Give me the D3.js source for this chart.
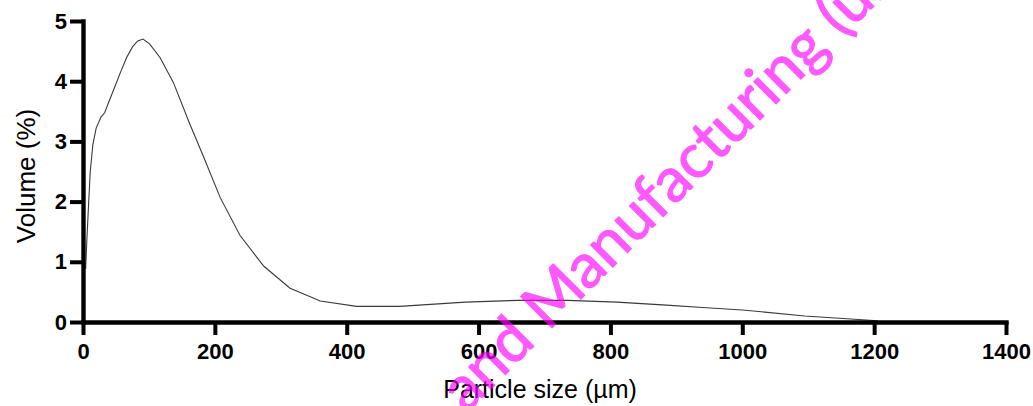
<!DOCTYPE html>
<html>
<head>
<meta charset="utf-8">
<script src="https://cdn.jsdelivr.net/npm/d3@7"></script>
<style>
    body { margin: 0; background: #fff; }
    .axis text { font-family: "Liberation Sans", Arial, sans-serif; font-weight: bold; font-size: 22px; fill: #000; }
</style>
</head>
<body>
<div id="chart-area"></div>
<script>
// particle size distribution (um vs volume %)
var particleSize = [4, 6, 8, 11, 15, 20, 27, 33, 40, 48, 57, 66, 75, 83, 91, 101, 117, 137, 162, 183,
    208, 238, 274, 314, 360, 415, 480, 580, 660, 735, 810, 885, 940, 1000, 1095, 1205];
var volume = [0.88, 1.4, 1.85, 2.5, 2.95, 3.22, 3.4, 3.48, 3.68, 3.9, 4.15, 4.39, 4.57, 4.67, 4.70, 4.62, 4.39, 3.98, 3.29, 2.74,
    2.07, 1.44, 0.93, 0.56, 0.35, 0.26, 0.26, 0.33, 0.36, 0.36, 0.33, 0.28, 0.24, 0.20, 0.10, 0.02];
var xTicks = [0, 200, 400, 600, 800, 1000, 1200, 1400];
var yTicks = [0, 1, 2, 3, 4, 5];
var watermark = "and Manufacturing (un";

SizeChart = function(_parentElement) {
    this.parentElement = _parentElement;
    this.data = particleSize.map(function(d, i) { return { size: d, vol: volume[i] }; });
    this.initVis();
}

SizeChart.prototype.initVis = function() {
    var vis = this;

    vis.margin = { top: 21, right: 27, bottom: 84, left: 83 };
    vis.width = 1033 - vis.margin.left - vis.margin.right;
    vis.height = 406 - vis.margin.top - vis.margin.bottom;

    vis.root = d3.select("#" + vis.parentElement).append("svg")
        .attr("width", 1033)
        .attr("height", 406);
    vis.svg = vis.root.append("g")
        .attr("transform", "translate(" + vis.margin.left + "," + vis.margin.top + ")");

    vis.x = d3.scaleLinear().domain([0, 1400]).range([0, vis.width]);
    vis.y = d3.scaleLinear().domain([0, 5]).range([vis.height, 0]);

    vis.xAxis = d3.axisBottom(vis.x).tickValues(xTicks).tickFormat(d3.format("d"))
        .tickSize(13).tickSizeOuter(0).tickPadding(8);
    vis.yAxis = d3.axisLeft(vis.y).tickValues(yTicks).tickFormat(d3.format("d"))
        .tickSize(13).tickSizeOuter(0).tickPadding(3);

    vis.updateVis();
}

SizeChart.prototype.updateVis = function() {
    var vis = this;

    var line = d3.line()
        .x(function(d) { return vis.x(d.size); })
        .y(function(d) { return vis.y(d.vol); });

    vis.svg.append("path")
        .datum(vis.data)
        .attr("fill", "none")
        .attr("stroke", "#3a3a3a")
        .attr("stroke-width", 1.1)
        .attr("d", line);

    var gx = vis.svg.append("g")
        .attr("class", "x-axis axis")
        .attr("transform", "translate(0," + vis.height + ")")
        .call(vis.xAxis);
    var gy = vis.svg.append("g")
        .attr("class", "y-axis axis")
        .call(vis.yAxis);

    [gx, gy].forEach(function(g) {
        g.select(".domain")
            .style("stroke", "#000")
            .style("stroke-width", "4.4px")
            .style("stroke-linecap", "square");
        g.selectAll(".tick line")
            .style("stroke", "#000")
            .style("stroke-width", "4px");
    });

    // axis titles
    vis.root.append("text")
        .attr("x", 540)
        .attr("y", 398)
        .attr("text-anchor", "middle")
        .style("font-family", "Liberation Sans, Arial, sans-serif")
        .style("font-size", "25px")
        .text("Particle size (µm)");
    vis.root.append("text")
        .attr("transform", "translate(35,176) rotate(-90)")
        .attr("text-anchor", "middle")
        .style("font-family", "Liberation Sans, Arial, sans-serif")
        .style("font-size", "26px")
        .text("Volume (%)");

    // watermark (slightly heavier strokes like the original)
    vis.root.append("text")
        .attr("transform", "translate(466,414) rotate(-45)")
        .style("font-family", "Lato, sans-serif")
        .style("font-size", "62px")
        .style("fill", "#ff00ff")
        .style("stroke", "#ff00ff")
        .style("stroke-width", "1.2px")
        .style("opacity", 0.65)
        .text(watermark);
}

var chart = new SizeChart("chart-area");
</script>
</body>
</html>
